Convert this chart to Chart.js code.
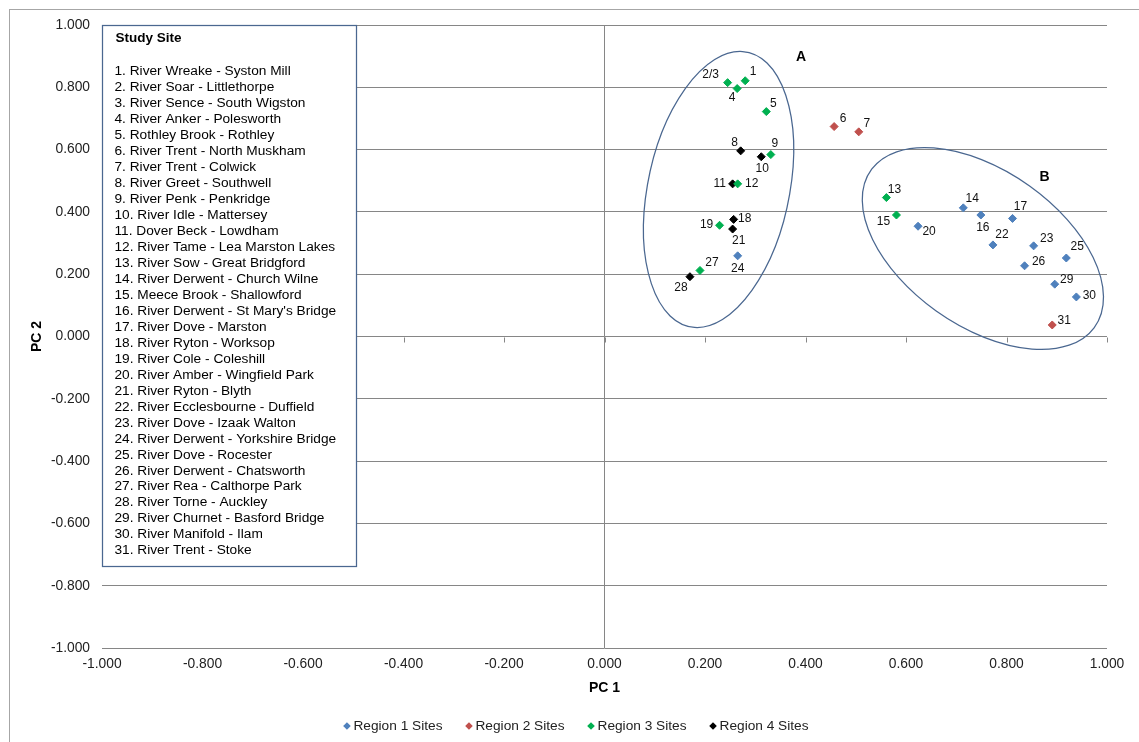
<!DOCTYPE html>
<html>
<head>
<meta charset="utf-8">
<script src="https://cdn.jsdelivr.net/npm/chart.js@4/dist/chart.umd.min.js"></script>
<style>
  body { margin: 0; background: #fff; }
  #pca_wrap { width: 1139px; height: 742px; }
</style>
</head>
<body>
<div id="pca_wrap"><canvas id="pca_chart" width="1139" height="742"></canvas></div>
<script>
// site numbers + PC scores, one group per region
let region1_sites = ['14', '16', '17', '20', '22', '23', '24', '25', '26', '29', '30'];
let region1_pc1 = [0.714, 0.749, 0.812, 0.624, 0.773, 0.854, 0.265, 0.919, 0.836, 0.896, 0.939];
let region1_pc2 = [0.413, 0.390, 0.379, 0.354, 0.294, 0.291, 0.259, 0.252, 0.227, 0.168, 0.127];

let region2_sites = ['6', '7', '31'];
let region2_pc1 = [0.457, 0.506, 0.891];
let region2_pc2 = [0.674, 0.657, 0.037];

let region3_sites = ['1', '2/3', '4', '5', '9', '12', '13', '15', '19', '27'];
let region3_pc1 = [0.280, 0.245, 0.264, 0.322, 0.331, 0.265, 0.561, 0.581, 0.229, 0.190];
let region3_pc2 = [0.821, 0.815, 0.796, 0.722, 0.584, 0.490, 0.446, 0.390, 0.357, 0.212];

let region4_sites = ['8', '10', '11', '18', '21', '28'];
let region4_pc1 = [0.271, 0.312, 0.255, 0.257, 0.255, 0.170];
let region4_pc2 = [0.596, 0.577, 0.490, 0.376, 0.345, 0.192];

let region_names = ['Region 1 Sites', 'Region 2 Sites', 'Region 3 Sites', 'Region 4 Sites'];
let region_colors = ['#4f81bd', '#c0504d', '#00b050', '#000000'];

let axis_min = -1;
let axis_max = 1;
let axis_step = 0.2;

let study_sites = [
  '1. River Wreake - Syston Mill',
  '2. River Soar - Littlethorpe',
  '3. River Sence - South Wigston',
  '4. River Anker - Polesworth',
  '5. Rothley Brook - Rothley',
  '6. River Trent - North Muskham',
  '7. River Trent - Colwick',
  '8. River Greet - Southwell',
  '9. River Penk - Penkridge',
  '10. River Idle - Mattersey',
  '11. Dover Beck - Lowdham',
  '12. River Tame - Lea Marston Lakes',
  '13. River Sow - Great Bridgford',
  '14. River Derwent - Church Wilne',
  '15. Meece Brook - Shallowford',
  "16. River Derwent - St Mary's Bridge",
  '17. River Dove - Marston',
  '18. River Ryton - Worksop',
  '19. River Cole - Coleshill',
  '20. River Amber - Wingfield Park',
  '21. River Ryton - Blyth',
  '22. River Ecclesbourne - Duffield',
  '23. River Dove - Izaak Walton',
  '24. River Derwent - Yorkshire Bridge',
  '25. River Dove - Rocester',
  '26. River Derwent - Chatsworth',
  '27. River Rea - Calthorpe Park',
  '28. River Torne - Auckley',
  '29. River Churnet - Basford Bridge',
  '30. River Manifold - Ilam',
  '31. River Trent - Stoke'
];

// group outlines A and B (centre, semi axes, rotation - all in PC units)
let group_names = ['A', 'B'];
let group_cx = [0.227, 0.753];
let group_cy = [0.472, 0.2825];
let group_a = [0.4454, 0.3547];
let group_b = [0.1423, 0.1918];
let group_rot = [1.4635, -1.066];
let group_label_x = [0.391, 0.8755];
let group_label_y = [0.897, 0.512];

// where each site number sits next to its marker (px)
let label_offsets = {
  '1': [8, -9], '2/3': [-17, -8], '4': [-5, 9], '5': [7, -8], '8': [-6, -8],
  '9': [4, -11], '10': [1, 12], '11': [-13, 0], '12': [14, 0], '18': [11, -1],
  '19': [-13, -1], '21': [6, 12], '24': [0, 13], '27': [12, -8], '28': [-9, 11],
  '6': [9, -8], '7': [8, -8], '13': [8, -8], '15': [-13, 7], '20': [11, 5],
  '14': [9, -9], '16': [2, 13], '17': [8, -12], '22': [9, -10], '23': [13, -7],
  '25': [11, -11], '26': [14, -4], '29': [12, -4], '30': [13, -1], '31': [12, -4]
};

let font_family = "'Liberation Sans', Arial, sans-serif";

function makePoints(pc1, pc2) {
  let pts = [];
  for (let i = 0; i < pc1.length; i++) {
    pts.push({x: pc1[i], y: pc2[i]});
  }
  return pts;
}

let all_sites = [region1_sites, region2_sites, region3_sites, region4_sites];
let all_points = [
  makePoints(region1_pc1, region1_pc2),
  makePoints(region2_pc1, region2_pc2),
  makePoints(region3_pc1, region3_pc2),
  makePoints(region4_pc1, region4_pc2)
];

let datasets = [];
for (let r = 0; r < 4; r++) {
  datasets.push({
    label: region_names[r],
    data: all_points[r],
    sites: all_sites[r],
    pointStyle: 'rectRot',
    pointRadius: 4,
    pointHoverRadius: 4,
    borderWidth: 1,
    backgroundColor: region_colors[r],
    borderColor: region_colors[r]
  });
}

function diamond(ctx, cx, cy, r) {
  ctx.beginPath();
  ctx.moveTo(cx, cy - r);
  ctx.lineTo(cx + r, cy);
  ctx.lineTo(cx, cy + r);
  ctx.lineTo(cx - r, cy);
  ctx.closePath();
  ctx.fill();
}

// grey frame round the whole chart
const framePlugin = {
  id: 'frame',
  beforeDraw(chart) {
    let ctx = chart.ctx;
    ctx.save();
    ctx.fillStyle = '#ffffff';
    ctx.fillRect(0, 0, chart.width, chart.height);
    ctx.strokeStyle = '#a6a6a6';
    ctx.lineWidth = 1;
    ctx.strokeRect(9.5, 9.5, chart.width + 10, chart.height + 10);
    ctx.restore();
  }
};

// small tick marks hanging off the PC2 = 0 line
const crossTicksPlugin = {
  id: 'crossTicks',
  beforeDatasetsDraw(chart) {
    let ctx = chart.ctx;
    let xs = chart.scales.x, ys = chart.scales.y;
    let y0 = Math.round(ys.getPixelForValue(0)) + 0.5;
    ctx.save();
    ctx.strokeStyle = '#868686';
    ctx.lineWidth = 1;
    ctx.beginPath();
    xs.ticks.forEach(t => {
      let px = Math.round(xs.getPixelForValue(t.value)) + 0.5;
      ctx.moveTo(px, y0);
      ctx.lineTo(px, y0 + 5);
    });
    ctx.stroke();
    ctx.restore();
  }
};

// the A / B ellipses, built in data space then stroked in pixels
const groupsPlugin = {
  id: 'groups',
  beforeDatasetsDraw(chart) {
    let ctx = chart.ctx;
    let xs = chart.scales.x, ys = chart.scales.y;
    let sx = xs.getPixelForValue(1) - xs.getPixelForValue(0);
    let sy = ys.getPixelForValue(0) - ys.getPixelForValue(1);
    for (let i = 0; i < group_names.length; i++) {
      ctx.save();
      ctx.translate(xs.getPixelForValue(group_cx[i]), ys.getPixelForValue(group_cy[i]));
      ctx.scale(sx, -sy);
      ctx.beginPath();
      ctx.ellipse(0, 0, group_a[i], group_b[i], group_rot[i], 0, Math.PI * 2);
      ctx.restore();
      ctx.save();
      ctx.strokeStyle = '#4a6790';
      ctx.lineWidth = 1.25;
      ctx.stroke();
      ctx.restore();
    }
  },
  afterDatasetsDraw(chart) {
    let ctx = chart.ctx;
    let xs = chart.scales.x, ys = chart.scales.y;
    ctx.save();
    ctx.fillStyle = '#000';
    ctx.font = 'bold 14px ' + font_family;
    ctx.textAlign = 'center';
    ctx.textBaseline = 'middle';
    for (let i = 0; i < group_names.length; i++) {
      ctx.fillText(group_names[i], xs.getPixelForValue(group_label_x[i]), ys.getPixelForValue(group_label_y[i]));
    }
    ctx.restore();
  }
};

// site numbers next to each marker
const siteLabelsPlugin = {
  id: 'siteLabels',
  afterDatasetsDraw(chart) {
    let ctx = chart.ctx;
    ctx.save();
    ctx.fillStyle = '#111';
    ctx.font = '12px ' + font_family;
    ctx.textAlign = 'center';
    ctx.textBaseline = 'middle';
    chart.data.datasets.forEach((ds, di) => {
      let meta = chart.getDatasetMeta(di);
      meta.data.forEach((pt, i) => {
        let name = ds.sites[i];
        let off = label_offsets[name] || [10, -8];
        ctx.fillText(name, pt.x + off[0], pt.y + off[1]);
      });
    });
    ctx.restore();
  }
};

// "Study Site" key box in the top left corner of the plot
const keyBoxPlugin = {
  id: 'keyBox',
  afterDraw(chart) {
    let ctx = chart.ctx;
    let area = chart.chartArea;
    let left = Math.round(area.left) + 0.5;
    let top = Math.round(area.top) + 0.5;
    ctx.save();
    ctx.fillStyle = '#ffffff';
    ctx.fillRect(left, top, 254, 541);
    ctx.strokeStyle = '#4a6790';
    ctx.lineWidth = 1.25;
    ctx.strokeRect(left, top, 254, 541);
    ctx.fillStyle = '#000';
    ctx.textAlign = 'left';
    ctx.textBaseline = 'middle';
    ctx.font = 'bold 13.5px ' + font_family;
    ctx.fillText('Study Site', left + 13, top + 13);
    ctx.font = '13.7px ' + font_family;
    study_sites.forEach((s, i) => {
      ctx.fillText(s, left + 12, top + 46 + i * 15.97);
    });
    ctx.restore();
  }
};

// legend row under the x axis title
const bottomLegendPlugin = {
  id: 'bottomLegend',
  afterDraw(chart) {
    let ctx = chart.ctx;
    ctx.save();
    ctx.font = '13.7px ' + font_family;
    ctx.textAlign = 'left';
    ctx.textBaseline = 'middle';
    let marker_w = 7, marker_gap = 3, item_gap = 23;
    let widths = region_names.map(n => ctx.measureText(n).width);
    let total = 0;
    widths.forEach(w => { total += marker_w + marker_gap + w; });
    total += item_gap * (widths.length - 1);
    let x = chart.width / 2 + 6.5 - total / 2;
    let y = chart.height - 16;
    region_names.forEach((n, i) => {
      ctx.fillStyle = region_colors[i];
      diamond(ctx, x + marker_w / 2, y, 3.8);
      ctx.fillStyle = '#222';
      ctx.fillText(n, x + marker_w + marker_gap, y);
      x += marker_w + marker_gap + widths[i] + item_gap;
    });
    ctx.restore();
  }
};

let tick_font = {family: font_family, size: 13.8};

new Chart(document.getElementById('pca_chart'), {
  type: 'scatter',
  data: { datasets: datasets },
  options: {
    responsive: false,
    animation: false,
    devicePixelRatio: 1,
    layout: { padding: { left: 14, top: 25, right: 32, bottom: 36 } },
    plugins: {
      tooltip: { enabled: false },
      legend: { display: false }
    },
    scales: {
      x: {
        type: 'linear',
        min: axis_min,
        max: axis_max,
        afterFit(scale) { scale.height = 58; },
        border: { display: false },
        grid: {
          drawTicks: false,
          color: ctx => (ctx.tick && Math.abs(ctx.tick.value) < 1e-9) ? '#868686' : 'rgba(0,0,0,0)',
          lineWidth: 1
        },
        ticks: {
          stepSize: axis_step,
          padding: 8,
          color: '#222',
          font: tick_font,
          maxRotation: 0,
          callback: v => v.toFixed(3)
        },
        title: {
          display: true,
          text: 'PC 1',
          color: '#000',
          font: {family: font_family, size: 14, weight: 'bold'},
          padding: {top: 0, bottom: 9.5}
        }
      },
      y: {
        type: 'linear',
        min: axis_min,
        max: axis_max,
        afterFit(scale) { scale.width = 88; },
        border: { display: false },
        grid: {
          drawTicks: false,
          color: '#868686',
          lineWidth: 1
        },
        ticks: {
          stepSize: axis_step,
          padding: 12,
          color: '#222',
          font: tick_font,
          callback: v => v.toFixed(3)
        },
        title: {
          display: true,
          text: 'PC 2',
          color: '#000',
          font: {family: font_family, size: 14, weight: 'bold'},
          padding: {top: 15, bottom: 0}
        }
      }
    }
  },
  plugins: [framePlugin, crossTicksPlugin, groupsPlugin, siteLabelsPlugin, keyBoxPlugin, bottomLegendPlugin]
});
</script>
</body>
</html>
